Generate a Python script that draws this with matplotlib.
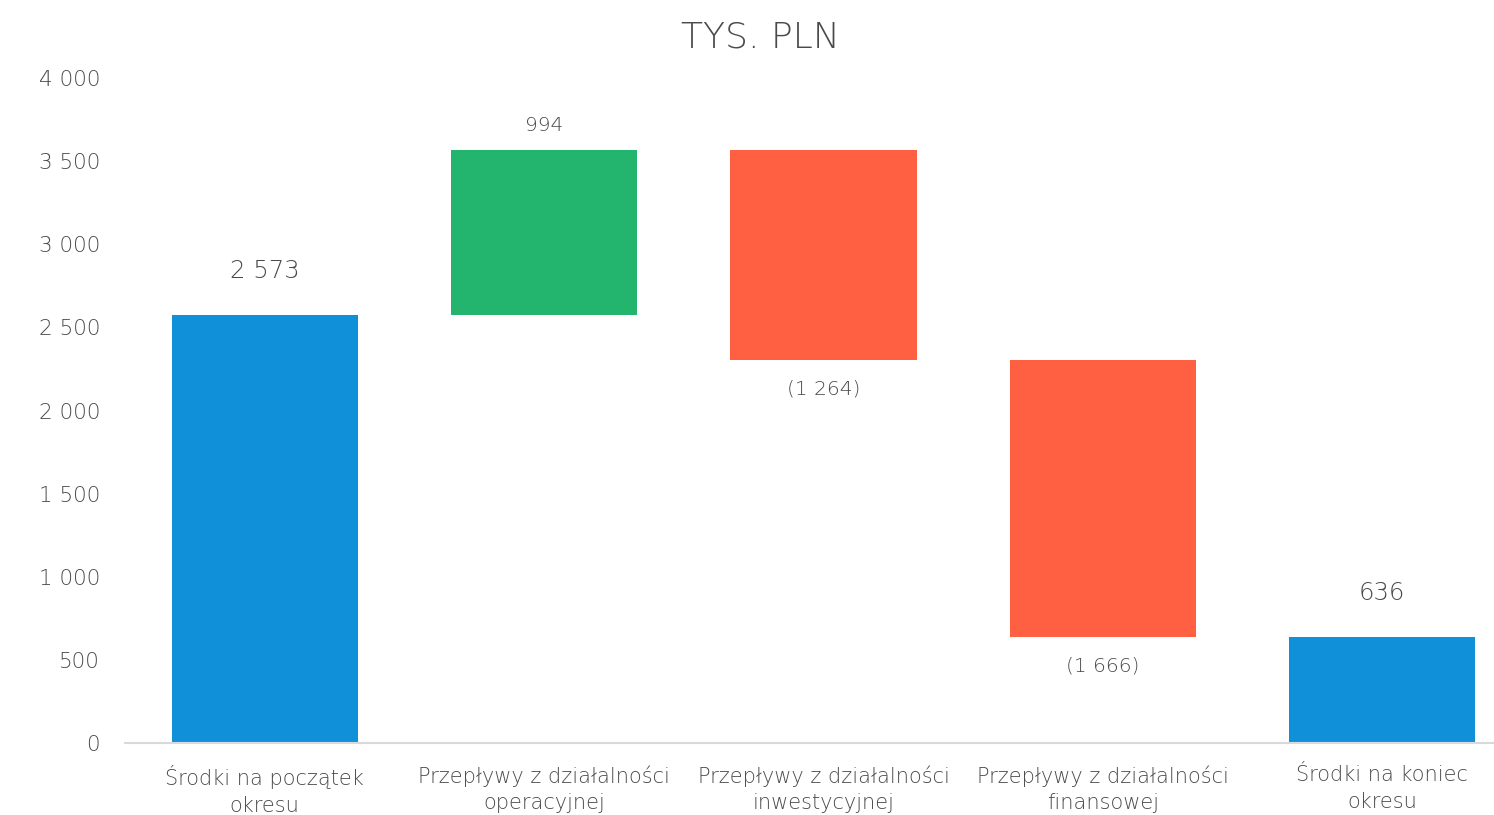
import numpy as np
import matplotlib.pyplot as plt

plt.rcParams['font.family'] = ['DejaVu Sans']
plt.rcParams['font.weight'] = 'light'

categories = ["Środki na początek\nokresu",
              "Przepływy z działalności\noperacyjnej",
              "Przepływy z działalności\ninwestycyjnej",
              "Przepływy z działalności\nfinansowej",
              "Środki na koniec\nokresu"]
changes = [2573, 994, -1264, -1666, 636]
kinds = ["total", "delta", "delta", "delta", "total"]
value_labels = ["2 573", "994", "(1 264)", "(1 666)", "636"]

blue, green, red = "#1190DA", "#23B56E", "#FF6041"
text_col = "#4A4A4A"

# waterfall geometry
bottoms, heights, colors = [], [], []
level = 0
for v, k in zip(changes, kinds):
    if k == "total":
        bottoms.append(0)
        heights.append(v)
        colors.append(blue)
        level = v
    else:
        if v >= 0:
            bottoms.append(level)
            colors.append(green)
        else:
            bottoms.append(level + v)
            colors.append(red)
        heights.append(abs(v))
        level += v

fig = plt.figure(figsize=(14.94, 8.15), dpi=100)
ax = fig.add_axes([0.0837, 0.0883, 0.9163, 0.8159])
x = np.arange(len(categories))
ax.bar(x, heights, bottom=bottoms, width=0.667, color=colors)

for i, (v, k) in enumerate(zip(changes, kinds)):
    top = bottoms[i] + heights[i]
    if k == "total":
        ax.annotate(value_labels[i], (x[i], top), xytext=(0, 32), textcoords="offset points",
                    ha="center", va="center", fontsize=17.5, color=text_col)
    elif v >= 0:
        ax.annotate(value_labels[i], (x[i], top), xytext=(0, 18), textcoords="offset points",
                    ha="center", va="center", fontsize=14.5, color=text_col)
    else:
        ax.annotate(value_labels[i], (x[i], bottoms[i]), xytext=(0, -21), textcoords="offset points",
                    ha="center", va="center", fontsize=14.5, color=text_col)

ax.set_xlim(-0.5, 4.4)
ax.set_ylim(0, 4000)
yt = np.arange(0, 4001, 500)
ax.set_yticks(yt)
ax.set_yticklabels([f"{int(t):,}".replace(",", " ") for t in yt], fontsize=15.5, color=text_col)
ax.set_xticks(x)
ax.set_xticklabels(categories, fontsize=15, color=text_col, linespacing=1.4)
ax.tick_params(axis="both", length=0)
ax.tick_params(axis="x", pad=16)
ax.tick_params(axis="y", pad=18)
for s in ["top", "right", "left"]:
    ax.spines[s].set_visible(False)
ax.spines["bottom"].set_color("#D9D9D9")
ax.spines["bottom"].set_linewidth(1.5)

fig.text(0.509, 0.954, "TYS. PLN", ha="center", va="center", fontsize=26, color=text_col)

fig.savefig("out.png", dpi=100)
